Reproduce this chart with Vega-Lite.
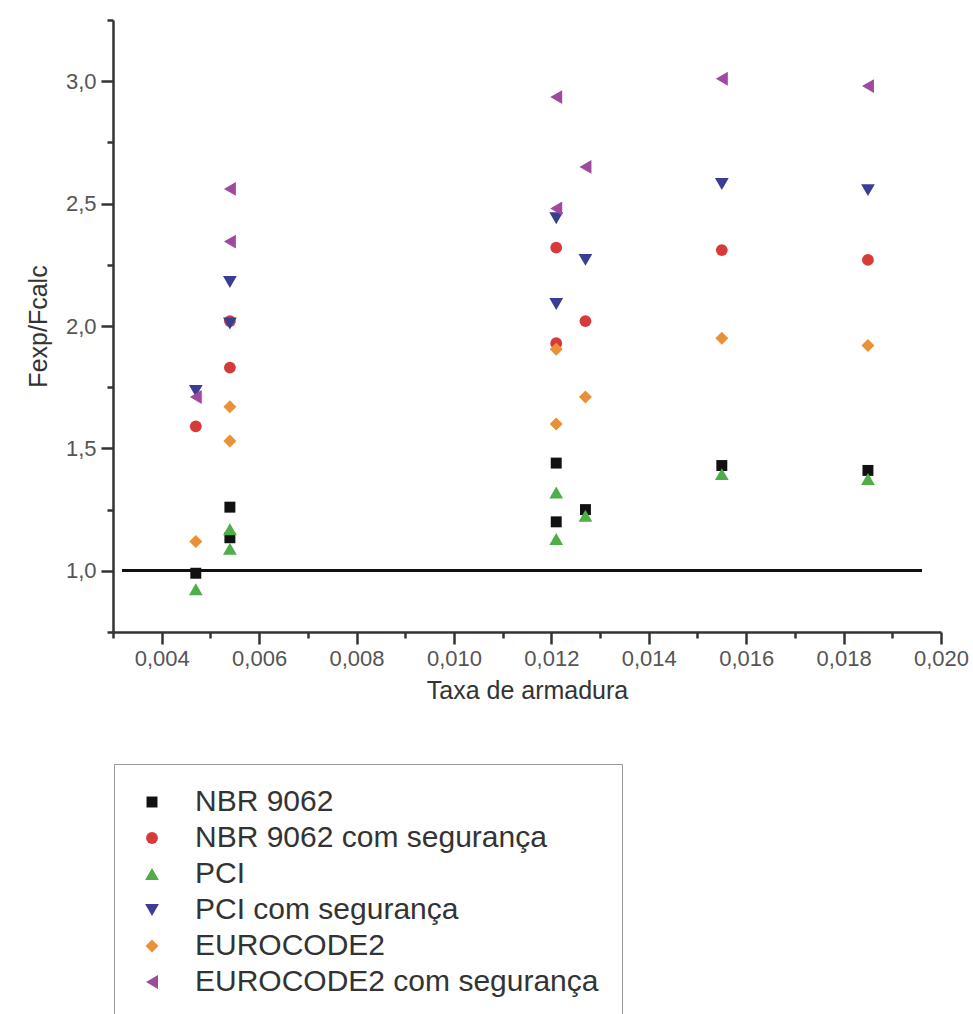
{
  "$schema": "https://vega.github.io/schema/vega-lite/v6.json",
  "width": 828,
  "height": 612,
  "autosize": {"type": "none"},
  "padding": {"left": 113, "top": 20, "right": 32, "bottom": 382},
  "background": "white",
  "config": {
    "view": {"stroke": null},
    "font": "Liberation Sans"
  },
  "data": {
    "values": [
      {"x": 0.0047, "y": 0.99, "serie": "NBR 9062"},
      {"x": 0.0054, "y": 1.26, "serie": "NBR 9062"},
      {"x": 0.0054, "y": 1.135, "serie": "NBR 9062"},
      {"x": 0.0121, "y": 1.44, "serie": "NBR 9062"},
      {"x": 0.0121, "y": 1.20, "serie": "NBR 9062"},
      {"x": 0.0127, "y": 1.25, "serie": "NBR 9062"},
      {"x": 0.0155, "y": 1.43, "serie": "NBR 9062"},
      {"x": 0.0185, "y": 1.41, "serie": "NBR 9062"},
      {"x": 0.0047, "y": 1.59, "serie": "NBR 9062 com segurança"},
      {"x": 0.0054, "y": 2.02, "serie": "NBR 9062 com segurança"},
      {"x": 0.0054, "y": 1.83, "serie": "NBR 9062 com segurança"},
      {"x": 0.0121, "y": 2.32, "serie": "NBR 9062 com segurança"},
      {"x": 0.0121, "y": 1.93, "serie": "NBR 9062 com segurança"},
      {"x": 0.0127, "y": 2.02, "serie": "NBR 9062 com segurança"},
      {"x": 0.0155, "y": 2.31, "serie": "NBR 9062 com segurança"},
      {"x": 0.0185, "y": 2.27, "serie": "NBR 9062 com segurança"},
      {"x": 0.0047, "y": 0.925, "serie": "PCI"},
      {"x": 0.0054, "y": 1.17, "serie": "PCI"},
      {"x": 0.0054, "y": 1.09, "serie": "PCI"},
      {"x": 0.0121, "y": 1.32, "serie": "PCI"},
      {"x": 0.0121, "y": 1.13, "serie": "PCI"},
      {"x": 0.0127, "y": 1.225, "serie": "PCI"},
      {"x": 0.0155, "y": 1.395, "serie": "PCI"},
      {"x": 0.0185, "y": 1.375, "serie": "PCI"},
      {"x": 0.0047, "y": 1.735, "serie": "PCI com segurança"},
      {"x": 0.0054, "y": 2.18, "serie": "PCI com segurança"},
      {"x": 0.0054, "y": 2.01, "serie": "PCI com segurança"},
      {"x": 0.0121, "y": 2.44, "serie": "PCI com segurança"},
      {"x": 0.0121, "y": 2.09, "serie": "PCI com segurança"},
      {"x": 0.0127, "y": 2.27, "serie": "PCI com segurança"},
      {"x": 0.0155, "y": 2.58, "serie": "PCI com segurança"},
      {"x": 0.0185, "y": 2.555, "serie": "PCI com segurança"},
      {"x": 0.0047, "y": 1.12, "serie": "EUROCODE2"},
      {"x": 0.0054, "y": 1.67, "serie": "EUROCODE2"},
      {"x": 0.0054, "y": 1.53, "serie": "EUROCODE2"},
      {"x": 0.0121, "y": 1.905, "serie": "EUROCODE2"},
      {"x": 0.0121, "y": 1.60, "serie": "EUROCODE2"},
      {"x": 0.0127, "y": 1.71, "serie": "EUROCODE2"},
      {"x": 0.0155, "y": 1.95, "serie": "EUROCODE2"},
      {"x": 0.0185, "y": 1.92, "serie": "EUROCODE2"},
      {"x": 0.0047, "y": 1.71, "serie": "EUROCODE2 com segurança"},
      {"x": 0.0054, "y": 2.56, "serie": "EUROCODE2 com segurança"},
      {"x": 0.0054, "y": 2.345, "serie": "EUROCODE2 com segurança"},
      {"x": 0.0121, "y": 2.935, "serie": "EUROCODE2 com segurança"},
      {"x": 0.0121, "y": 2.48, "serie": "EUROCODE2 com segurança"},
      {"x": 0.0127, "y": 2.65, "serie": "EUROCODE2 com segurança"},
      {"x": 0.0155, "y": 3.01, "serie": "EUROCODE2 com segurança"},
      {"x": 0.0185, "y": 2.98, "serie": "EUROCODE2 com segurança"}
    ]
  },
  "layer": [
    {
      "mark": {"type": "rule", "color": "#111111", "strokeWidth": 2},
      "encoding": {
        "y": {"datum": 1.0, "type": "quantitative"},
        "x": {"datum": 0.0032, "type": "quantitative"},
        "x2": {"datum": 0.0196}
      }
    },
    {
      "mark": {"type": "point", "filled": true, "opacity": 1},
      "encoding": {
        "x": {
          "field": "x",
          "type": "quantitative",
          "scale": {"domain": [0.003, 0.020], "nice": false, "zero": false},
          "axis": {
            "title": "Taxa de armadura",
            "values": [0.003, 0.004, 0.005, 0.006, 0.007, 0.008, 0.009, 0.010, 0.011, 0.012, 0.013, 0.014, 0.015, 0.016, 0.017, 0.018, 0.019, 0.020],
            "labelExpr": "round(datum.value*1000) % 2 == 1 ? '' : replace(format(datum.value, '.3f'), '.', ',')",
            "tickSize": {"condition": {"test": "round(datum.value*1000) % 2 == 1", "value": 6}, "value": 12},
            "grid": false,
            "domainColor": "#333333",
            "domainWidth": 2.5,
            "tickColor": "#333333",
            "tickWidth": 2.5,
            "labelFontSize": 22,
            "labelColor": "#555555",
            "labelPadding": 4,
            "labelFlush": false,
            "labelOverlap": false,
            "titleFontSize": 25,
            "titleFontWeight": "normal",
            "titleColor": "#333333",
            "titlePadding": 9
          }
        },
        "y": {
          "field": "y",
          "type": "quantitative",
          "scale": {"domain": [0.75, 3.25], "nice": false, "zero": false},
          "axis": {
            "title": "Fexp/Fcalc",
            "values": [0.75, 1.0, 1.25, 1.5, 1.75, 2.0, 2.25, 2.5, 2.75, 3.0, 3.25],
            "labelExpr": "round(datum.value*4) % 2 == 1 ? '' : replace(format(datum.value, '.1f'), '.', ',')",
            "tickSize": {"condition": {"test": "round(datum.value*4) % 2 == 1", "value": 6}, "value": 12},
            "grid": false,
            "domainColor": "#333333",
            "domainWidth": 2.5,
            "tickColor": "#333333",
            "tickWidth": 2.5,
            "labelFontSize": 22,
            "labelColor": "#555555",
            "labelPadding": 5,
            "labelFlush": false,
            "labelOverlap": false,
            "titleFontSize": 25,
            "titleFontWeight": "normal",
            "titleColor": "#333333",
            "titlePadding": 14
          }
        },
        "color": {
          "field": "serie",
          "type": "nominal",
          "sort": null,
          "scale": {
            "domain": ["NBR 9062", "NBR 9062 com segurança", "PCI", "PCI com segurança", "EUROCODE2", "EUROCODE2 com segurança"],
            "range": ["#111111", "#d83a3a", "#4fae4a", "#3a3d94", "#ea9036", "#9e4a9e"]
          },
          "legend": {
            "title": null,
            "orient": "none",
            "legendX": 1,
            "legendY": 744,
            "padding": 23,
            "strokeColor": "#999999",
            "fillColor": "white",
            "labelFontSize": 30,
            "labelColor": "#333333",
            "labelOffset": 28,
            "labelLimit": 700,
            "symbolStrokeWidth": 0,
            "rowPadding": 6
          }
        },
        "shape": {
          "field": "serie",
          "type": "nominal",
          "sort": null,
          "scale": {
            "domain": ["NBR 9062", "NBR 9062 com segurança", "PCI", "PCI com segurança", "EUROCODE2", "EUROCODE2 com segurança"],
            "range": ["square", "circle", "triangle-up", "triangle-down", "diamond", "triangle-left"]
          }
        },
        "size": {
          "field": "serie",
          "type": "nominal",
          "sort": null,
          "scale": {
            "type": "ordinal",
            "domain": ["NBR 9062", "NBR 9062 com segurança", "PCI", "PCI com segurança", "EUROCODE2", "EUROCODE2 com segurança"],
            "range": [120, 140, 190, 190, 170, 190]
          }
        }
      }
    }
  ]
}
